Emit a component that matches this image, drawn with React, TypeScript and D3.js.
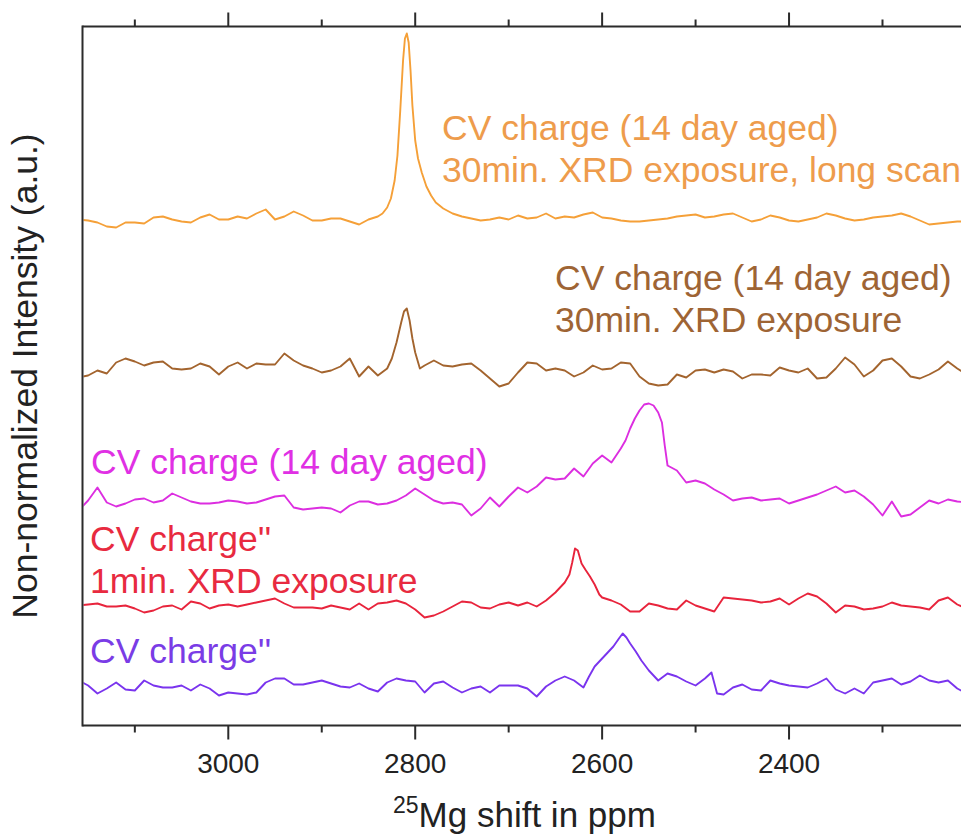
import React from "react";
import * as d3 from "d3";

// 25Mg NMR spectra, chemical shift in ppm (descending) paired with stacked intensity (a.u.)
const freshCharge: [number, number][] = [[3160,6],[3150,1],[3140,-7],[3130,-2],[3120,4],[3110,-3],[3100,-4],[3090,6],[3080,1],[3070,-1],[3060,-1],[3050,1],[3040,-4],[3030,2],[3020,-2],[3010,-9],[3000,-6],[2990,-7],[2980,-8],[2970,-6],[2960,4],[2950,8],[2940,8],[2930,2],[2920,2],[2910,4],[2900,6],[2890,3],[2880,0],[2870,-1],[2860,3],[2850,-2],[2840,-5],[2830,4],[2820,8],[2810,6],[2800,5],[2790,-6],[2780,3],[2770,5],[2760,-1],[2750,-6],[2740,-2],[2730,0],[2720,-6],[2710,1],[2700,1],[2690,1],[2680,-2],[2670,-10],[2660,0],[2650,6],[2640,10],[2630,6],[2620,-1],[2614,10],[2608,20],[2600,28],[2594,34],[2588,40],[2582,48],[2578,53],[2574,49],[2570,43],[2564,35],[2558,26],[2550,16],[2540,6],[2530,13],[2520,10],[2510,5],[2500,1],[2490,8],[2483,14],[2477,-7],[2470,-8],[2460,-1],[2450,2],[2440,-3],[2430,-4],[2420,6],[2410,3],[2400,1],[2390,0],[2380,-1],[2370,3],[2360,8],[2350,-3],[2340,-7],[2330,-2],[2320,-7],[2310,4],[2300,6],[2290,8],[2280,2],[2270,5],[2260,11],[2250,6],[2240,4],[2230,6],[2220,-2],[2210,-7]];

const fresh1minXrd: [number, number][] = [[3160,-1],[3150,0],[3140,1],[3130,-2],[3120,-2],[3110,-1],[3100,-4],[3090,-8],[3080,-6],[3070,-2],[3060,-1],[3050,-5],[3040,3],[3030,1],[3020,-4],[3010,-1],[3000,0],[2990,-2],[2980,0],[2970,2],[2960,4],[2950,6],[2940,1],[2930,-3],[2920,-3],[2910,-3],[2900,-4],[2890,-1],[2880,-3],[2870,-5],[2860,1],[2850,-5],[2840,1],[2830,2],[2820,4],[2810,1],[2800,-5],[2790,-13],[2780,-11],[2770,-7],[2760,-2],[2750,3],[2740,2],[2730,-3],[2720,-4],[2710,0],[2700,2],[2690,-1],[2680,2],[2670,-2],[2660,4],[2650,12],[2645,17],[2640,22],[2635,30],[2632,42],[2629,56],[2626,54],[2622,41],[2618,35],[2613,28],[2608,20],[2603,10],[2600,7],[2590,4],[2580,0],[2570,-7],[2560,-7],[2550,1],[2540,-1],[2530,-4],[2520,-5],[2510,4],[2500,-1],[2490,-4],[2480,-7],[2470,7],[2460,6],[2450,5],[2440,4],[2430,2],[2420,3],[2410,6],[2400,0],[2390,6],[2380,11],[2370,8],[2360,1],[2350,-8],[2340,-1],[2330,-2],[2320,-5],[2310,-4],[2300,-2],[2290,2],[2280,-1],[2270,-2],[2260,-3],[2250,-5],[2240,4],[2230,7],[2220,0],[2210,-4]];

const aged14d: [number, number][] = [[3160,-10],[3150,0],[3140,13],[3130,-2],[3120,-6],[3110,-3],[3100,1],[3090,2],[3080,-2],[3070,0],[3060,7],[3050,3],[3040,-1],[3030,-3],[3020,-3],[3010,-2],[3000,0],[2990,-1],[2980,-3],[2970,-2],[2960,1],[2950,4],[2940,5],[2930,-7],[2920,-9],[2910,-8],[2900,-7],[2890,-8],[2880,-12],[2870,-5],[2860,-1],[2850,-1],[2840,-4],[2830,-3],[2820,0],[2810,5],[2800,12],[2790,6],[2780,0],[2770,-3],[2760,-2],[2750,-4],[2740,-15],[2730,-8],[2720,3],[2710,-6],[2700,4],[2690,13],[2680,8],[2670,14],[2660,23],[2650,21],[2640,22],[2630,32],[2620,24],[2610,37],[2600,45],[2590,38],[2580,52],[2575,60],[2570,72],[2565,82],[2560,90],[2555,96],[2550,97],[2545,95],[2540,88],[2536,78],[2533,55],[2530,35],[2520,30],[2510,18],[2500,20],[2490,17],[2480,11],[2470,6],[2460,0],[2450,2],[2440,3],[2430,0],[2420,1],[2410,2],[2400,-3],[2390,0],[2380,3],[2370,6],[2360,10],[2350,14],[2340,8],[2330,10],[2320,4],[2310,-4],[2300,-15],[2290,-1],[2280,-16],[2270,-14],[2260,-7],[2250,0],[2240,-3],[2230,1],[2220,-1],[2210,-2]];

const aged30minXrd: [number, number][] = [[3160,-4],[3150,-2],[3140,3],[3130,0],[3120,11],[3110,15],[3100,12],[3090,8],[3080,11],[3070,12],[3060,5],[3050,4],[3040,5],[3030,10],[3020,7],[3010,-1],[3000,7],[2990,11],[2980,5],[2970,10],[2960,9],[2950,9],[2940,20],[2930,13],[2920,8],[2910,5],[2900,1],[2890,3],[2880,7],[2870,15],[2860,-3],[2850,7],[2840,-2],[2830,5],[2825,15],[2820,31],[2815,51],[2812,62],[2809,65],[2806,53],[2803,35],[2800,21],[2795,5],[2790,8],[2780,13],[2770,8],[2760,7],[2750,9],[2740,10],[2730,3],[2720,-5],[2710,-13],[2700,-10],[2690,1],[2680,11],[2670,10],[2660,3],[2650,5],[2640,3],[2630,-3],[2620,1],[2610,8],[2600,4],[2590,5],[2580,11],[2570,10],[2560,-3],[2550,-10],[2540,-12],[2530,-11],[2520,-1],[2510,-4],[2500,3],[2490,4],[2480,1],[2470,4],[2460,2],[2450,-5],[2440,-1],[2430,-1],[2420,-2],[2410,6],[2400,3],[2390,1],[2380,5],[2370,-5],[2360,-4],[2350,5],[2340,16],[2330,9],[2320,-3],[2310,3],[2300,13],[2290,15],[2280,7],[2270,-3],[2260,-5],[2250,-1],[2240,4],[2230,12],[2220,5],[2210,-1]];

const aged30minLongScan: [number, number][] = [[3160,1],[3150,0],[3140,-2],[3130,-6],[3120,-7],[3110,-2],[3100,-2],[3090,-3],[3080,3],[3070,4],[3060,1],[3050,-1],[3040,-2],[3030,3],[3020,6],[3010,1],[3000,1],[2990,4],[2980,2],[2970,7],[2960,11],[2950,1],[2940,4],[2930,9],[2920,5],[2910,0],[2900,0],[2890,2],[2880,2],[2870,-1],[2860,-4],[2850,1],[2840,4],[2835,7],[2830,13],[2826,22],[2822,40],[2819,65],[2816,110],[2813,160],[2811,182],[2809,187],[2807,178],[2805,150],[2803,115],[2800,80],[2797,62],[2793,48],[2788,34],[2783,25],[2778,18],[2770,12],[2760,7],[2750,4],[2740,2],[2730,0],[2720,1],[2710,3],[2700,1],[2690,5],[2680,2],[2670,3],[2660,7],[2650,2],[2640,4],[2630,3],[2620,6],[2610,8],[2600,3],[2590,2],[2580,0],[2570,-1],[2560,-1],[2550,0],[2540,1],[2530,2],[2520,4],[2510,5],[2500,6],[2490,3],[2480,4],[2470,6],[2460,7],[2450,3],[2440,-1],[2430,1],[2420,5],[2410,3],[2400,0],[2390,-1],[2380,1],[2370,3],[2360,7],[2350,5],[2340,2],[2330,0],[2320,1],[2310,3],[2300,4],[2290,5],[2280,7],[2270,4],[2260,0],[2250,-4],[2240,-3],[2230,-2],[2220,-1],[2210,-1]];

// vertical stacking offsets (a.u.), bottom to top
const stackOffsets = [39, 121, 225, 352, 505];

const seriesData = [freshCharge, fresh1minXrd, aged14d, aged30minXrd, aged30minLongScan];
const lineColors = ["#7a34ee", "#e8243c", "#dc2ee0", "#a3642e", "#f5a038"];
const textColors = ["#7a3ce6", "#e82a40", "#e030e4", "#9e6434", "#ee9c4c"];

const seriesLabels: string[][] = [
  ["CV charge''"],
  ["CV charge''", "1min. XRD exposure"],
  ["CV charge (14 day aged)"],
  ["CV charge (14 day aged)", "30min. XRD exposure"],
  ["CV charge (14 day aged)", "30min. XRD exposure, long scan"],
];

const majorTicks = [3000, 2800, 2600, 2400];
const minorTicks = [3100, 2900, 2700, 2500, 2300];

const W = 961;
const H = 836;
const plotLeft = 82.5;
const plotRight = 961;
const plotTop = 26.5;
const plotBottom = 725.5;

// label anchor points (x, first baseline), one per series
const labelAnchors: [number, number][] = [
  [90, 663],
  [90, 551],
  [91, 474],
  [555, 290],
  [442, 140],
];
const lineGap = 42;

export default function App() {
  const x = d3.scaleLinear().domain([3156, 2216]).range([plotLeft, plotRight]);
  const y = d3.scaleLinear().domain([0, 699]).range([plotBottom, plotTop]);

  const font = "Arial, 'Liberation Sans', Helvetica, sans-serif";
  const axisColor = "#2b2b2b";

  return (
    <svg
      width={W}
      height={H}
      style={{ position: "absolute", left: 0, top: 0, background: "#fff" }}
      fontFamily={font}
    >
      <defs>
        <clipPath id="plotClip">
          <rect x={plotLeft + 1} y={plotTop} width={plotRight - plotLeft} height={plotBottom - plotTop} />
        </clipPath>
      </defs>

      {/* spectra */}
      <g clipPath="url(#plotClip)">
        {seriesData.map((pts, i) => {
          const line = d3
            .line<[number, number]>()
            .x((d) => x(d[0]))
            .y((d) => y(d[1] + stackOffsets[i]));
          return (
            <path
              key={i}
              d={line(pts) || ""}
              fill="none"
              stroke={lineColors[i]}
              strokeWidth={1.9}
              strokeLinejoin="round"
            />
          );
        })}
      </g>

      {/* frame */}
      <line x1={plotLeft} x2={plotLeft} y1={plotTop - 1} y2={plotBottom + 1} stroke={axisColor} strokeWidth={2} />
      <line x1={plotLeft} x2={plotRight} y1={plotTop} y2={plotTop} stroke={axisColor} strokeWidth={2} />
      <line x1={plotLeft} x2={plotRight} y1={plotBottom} y2={plotBottom} stroke={axisColor} strokeWidth={2} />

      {/* ticks */}
      {majorTicks.map((t) => (
        <g key={"M" + t}>
          <line x1={x(t)} x2={x(t)} y1={plotTop} y2={plotTop - 14} stroke={axisColor} strokeWidth={2} />
          <line x1={x(t)} x2={x(t)} y1={plotBottom} y2={plotBottom + 14} stroke={axisColor} strokeWidth={2} />
          <text x={x(t)} y={773} textAnchor="middle" fontSize={28} fill="#222">
            {t}
          </text>
        </g>
      ))}
      {minorTicks.map((t) => (
        <g key={"m" + t}>
          <line x1={x(t)} x2={x(t)} y1={plotTop} y2={plotTop - 7} stroke={axisColor} strokeWidth={2} />
          <line x1={x(t)} x2={x(t)} y1={plotBottom} y2={plotBottom + 7} stroke={axisColor} strokeWidth={2} />
        </g>
      ))}

      {/* axis titles */}
      <text x={393} y={827} fontSize={35} fill="#222">
        <tspan fontSize={23} dy={-14}>25</tspan>
        <tspan dy={14}>Mg shift in ppm</tspan>
      </text>
      <text
        transform={`translate(37,${(plotTop + plotBottom) / 2}) rotate(-90)`}
        textAnchor="middle"
        fontSize={35.5}
        fill="#222"
      >
        Non-normalized Intensity (a.u.)
      </text>

      {/* series labels */}
      {seriesLabels.map((lines, i) => (
        <text key={"l" + i} fontSize={35.5} fill={textColors[i]}>
          {lines.map((s, j) => (
            <tspan key={j} x={labelAnchors[i][0]} y={labelAnchors[i][1] + j * lineGap}>
              {s}
            </tspan>
          ))}
        </text>
      ))}
    </svg>
  );
}
